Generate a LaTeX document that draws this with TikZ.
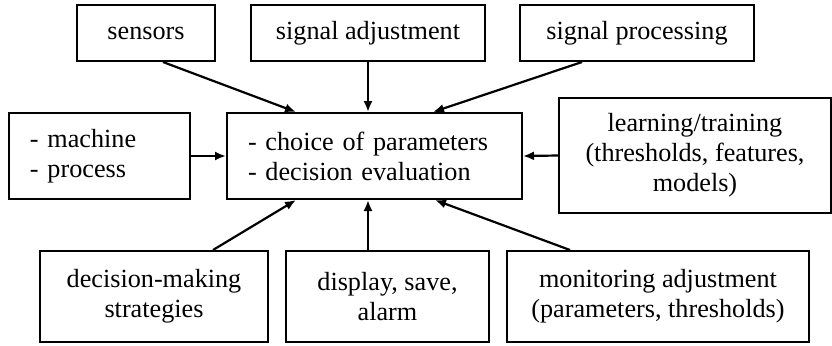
\documentclass[tikz,border=0pt]{standalone}
\usepackage{fontspec}
\setmainfont{Liberation Serif}
\usetikzlibrary{arrows.meta}
\begin{document}
\begin{tikzpicture}[x=0.5pt,y=-0.5pt,
    box/.style={draw, line width=1pt, inner sep=0pt, align=center,
      font=\fontsize{13.1}{15}\selectfont},
    lbox/.style={box, align=left, inner xsep=10.5pt},
    arr/.style={line width=1.1pt, -{Latex[length=5.5pt,width=4.5pt]}}]
  \useasboundingbox (0,0) rectangle (832,345);

  % top row
  \node[box, minimum width=69pt, minimum height=28pt] (sen) at (146,33) {sensors};
  \node[box, minimum width=117pt, minimum height=28pt] (adj) at (368,33) {signal adjustment};
  \node[box, minimum width=117pt, minimum height=28pt] (proc) at (637,33) {signal processing};

  % middle row
  \node[lbox, text width=69.5pt, minimum height=43pt] (mach) at (99.5,156) {- machine\\- process};
  \node[lbox, text width=126.5pt, minimum height=43pt] (cen) at (374.5,156)
    {- choice of parameters\\- decision evaluation};
  \node[box, minimum width=136pt, minimum height=57.5pt] (learn) at (695,155.5)
    {learning/training\\(thresholds, features,\\models)};

  % bottom row
  \node[box, minimum width=114pt, minimum height=45.5pt] (dm) at (154,296.5)
    {decision-making\\strategies};
  \node[box, minimum width=101.5pt, minimum height=45.5pt] (disp) at (387.5,296.5)
    {display, save,\\alarm};
  \node[box, minimum width=151pt, minimum height=45.5pt] (mon) at (658,296.5)
    {monitoring adjustment\\(parameters, thresholds)};

  \draw[arr] ([xshift=8.5pt]sen.south) -- ([xshift=-39.25pt]cen.north);
  \draw[arr] (adj.south) -- ([xshift=-3.25pt]cen.north);
  \draw[arr] ([xshift=-27.5pt]proc.south) -- ([xshift=29.25pt]cen.north);
  \draw[arr] (mach.east) -- (cen.west);
  \draw[arr] (learn.west) -- (cen.east);
  \draw[arr] ([xshift=29.5pt]dm.north) -- ([xshift=-39.25pt]cen.south);
  \draw[arr] ([xshift=-9.75pt]disp.north) -- ([xshift=-3.25pt]cen.south);
  \draw[arr] ([xshift=-44pt]mon.north) -- ([xshift=30.25pt]cen.south);
\end{tikzpicture}
\end{document}
